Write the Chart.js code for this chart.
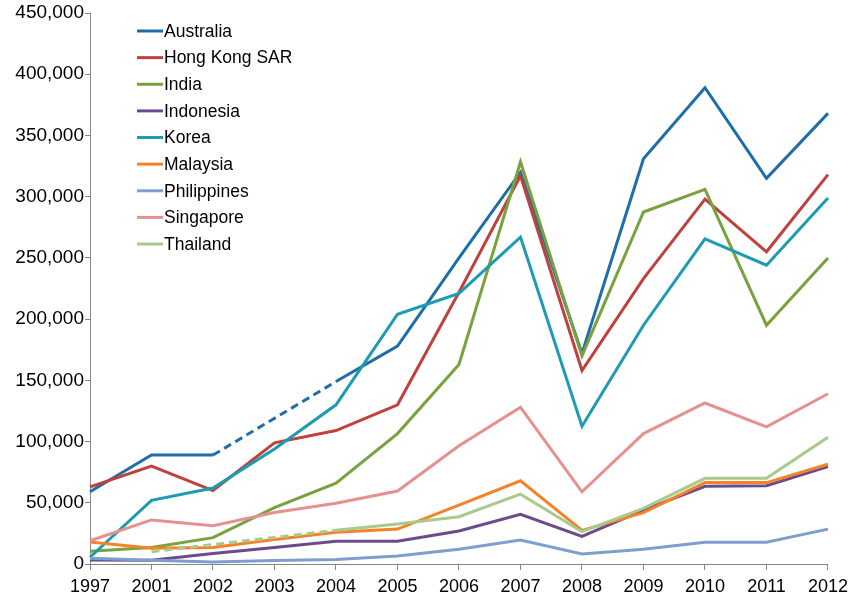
<!DOCTYPE html>
<html>
<head>
<meta charset="utf-8">
<script src="https://cdn.jsdelivr.net/npm/chart.js@4/dist/chart.umd.min.js"></script>
<style>
  html, body { margin: 0; padding: 0; background: #ffffff; }
  #wrap { width: 854px; height: 598px; }
</style>
</head>
<body>
<div id="wrap"><canvas id="c" width="854" height="598"></canvas></div>
<script>
// ---- Data ----
const years = ['1997','2001','2002','2003','2004','2005','2006','2007','2008','2009','2010','2011','2012'];
const yTicks = [0, 50000, 100000, 150000, 200000, 250000, 300000, 350000, 400000, 450000];

const australia   = [59000, 89000, 89000, null, 149000, 178000, 250000, 320000, 172000, 331000, 389000, 315000, 368000];
const hongKong    = [63000, 80000, 60000, 99000, 109000, 130000, 222000, 317000, 158000, 233000, 298000, 255000, 318000];
const india       = [10500, 13500, 21500, 46000, 66000, 106500, 163000, 328500, 170000, 287500, 306000, 195000, 250000];
const indonesia   = [3300, 3000, 8500, 13500, 18500, 18500, 27000, 40500, 22500, 44000, 63500, 64000, 79500];
const korea       = [5500, 52000, 62000, 94000, 130000, 204000, 221000, 267000, 112500, 195000, 265500, 244000, 299000];
const malaysia    = [18000, 12800, 13500, 20000, 26000, 28500, 48000, 68000, 27500, 42000, 66500, 66500, 81500];
const philippines = [4600, 3000, 1600, 2800, 3600, 6500, 12000, 19500, 8200, 12000, 17700, 17700, 28500];
const singapore   = [19000, 36000, 31300, 42000, 49600, 59600, 96500, 128000, 59000, 106500, 131500, 112000, 139000];
const thailand    = [null, 10000, null, null, 27500, 32700, 38600, 57000, 26400, 45500, 70000, 70000, 103500];

const seriesNames = ['Australia','Hong Kong SAR','India','Indonesia','Korea','Malaysia','Philippines','Singapore','Thailand'];
const seriesData  = [australia, hongKong, india, indonesia, korea, malaysia, philippines, singapore, thailand];
const seriesColors = ['#1F6EA8','#C0403D','#78A23E','#6C4B8C','#1C9BB3','#F68228','#7E9FCE','#E4918F','#A8CB8C'];

const FONT = '"Liberation Sans", Arial, sans-serif';
const gapDash = ctx => (ctx.p0.skip || ctx.p1.skip) ? [8, 5] : undefined;

const datasets = seriesNames.map((name, i) => ({
  label: name,
  data: seriesData[i],
  borderColor: seriesColors[i],
  backgroundColor: seriesColors[i],
  borderWidth: 3,
  pointRadius: 0,
  pointHoverRadius: 0,
  tension: 0,
  fill: false,
  spanGaps: true,
  order: seriesNames.length - i,
  segment: { borderDash: gapDash }
}));

const insideLegend = {
  id: 'insideLegend',
  afterDraw(chart) {
    const ctx = chart.ctx;
    const x0 = chart.chartArea.left + 47;
    const y0 = chart.chartArea.top + 18;
    chart.data.datasets.forEach((ds, i) => {
      const y = y0 + i * 26.63;
      ctx.save();
      ctx.strokeStyle = ds.borderColor;
      ctx.lineWidth = 3;
      ctx.beginPath();
      ctx.moveTo(x0, y);
      ctx.lineTo(x0 + 26, y);
      ctx.stroke();
      ctx.fillStyle = '#000000';
      ctx.font = '17.5px ' + FONT;
      ctx.textBaseline = 'middle';
      ctx.textAlign = 'left';
      ctx.fillText(ds.label, x0 + 27, y + 1);
      ctx.restore();
    });
  }
};

new Chart(document.getElementById('c'), {
  type: 'line',
  data: { labels: years, datasets },
  options: {
    responsive: false,
    animation: false,
    events: [],
    layout: { padding: { top: 13, right: 22, left: 0, bottom: 0 } },
    plugins: { legend: { display: false }, tooltip: { enabled: false } },
    scales: {
      x: {
        type: 'category',
        offset: false,
        afterFit: s => { s.height = 34; },
        grid: { display: true, drawOnChartArea: false, drawTicks: true, tickLength: 6, tickColor: '#868686', offset: false },
        border: { display: true, color: '#868686', width: 1 },
        ticks: { color: '#000000', font: { family: FONT, size: 18 }, padding: 6, maxRotation: 0, autoSkip: false }
      },
      y: {
        min: 0,
        max: 450000,
        afterFit: s => { s.width = 90; },
        afterBuildTicks: s => { s.ticks = yTicks.map(v => ({ value: v })); },
        grid: { display: true, drawOnChartArea: false, drawTicks: true, tickLength: 5, tickColor: '#868686' },
        border: { display: true, color: '#868686', width: 1 },
        ticks: {
          color: '#000000',
          font: { family: FONT, size: 19 },
          padding: 1,
          callback: v => Number(v).toLocaleString('en-US')
        }
      }
    }
  },
  plugins: [insideLegend]
});
</script>
</body>
</html>
